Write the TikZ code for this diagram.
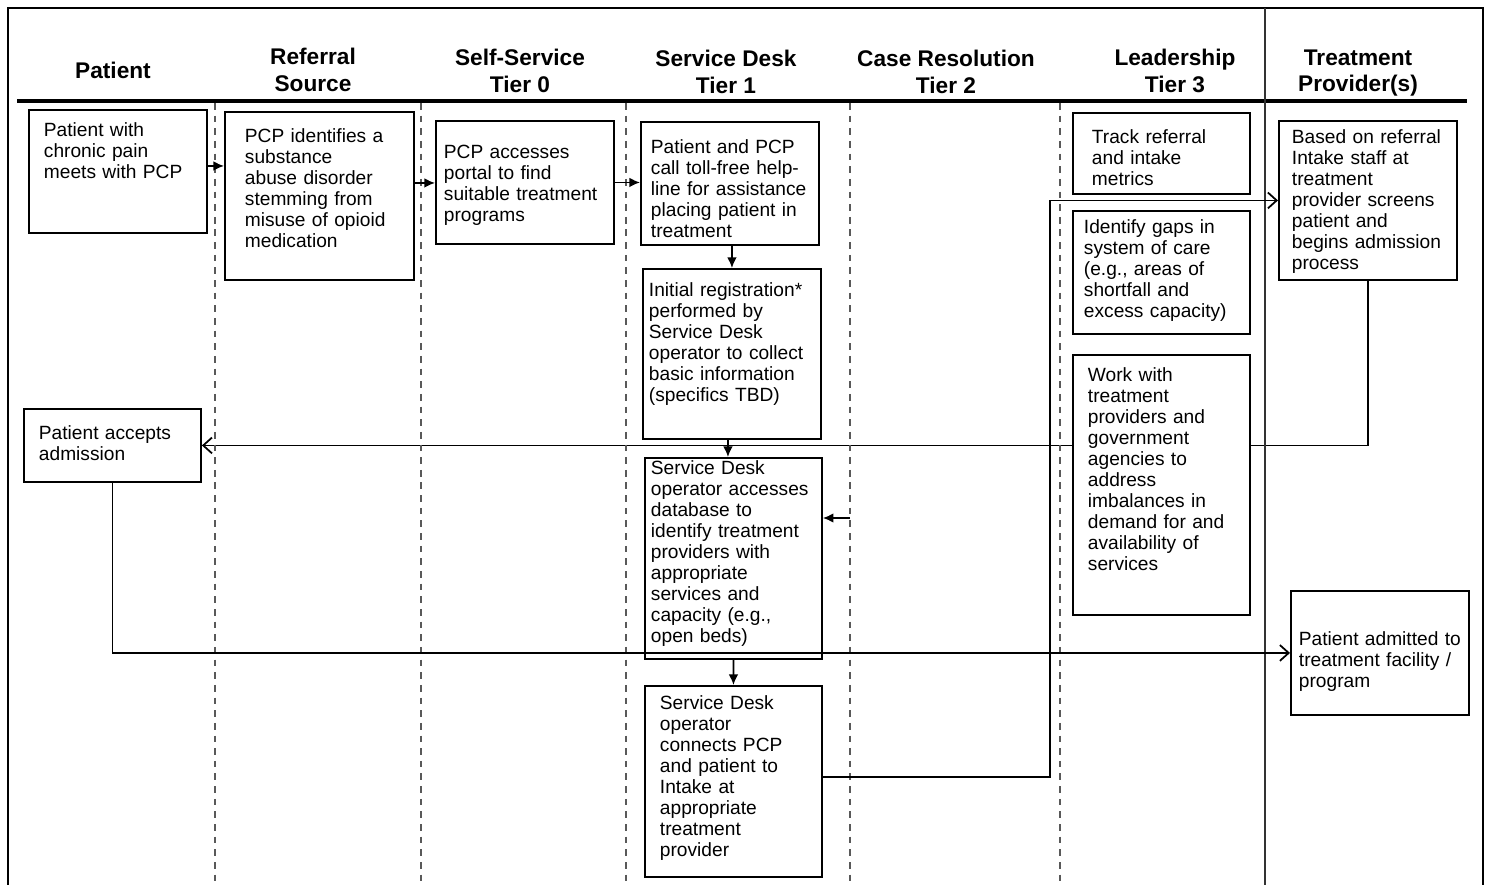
\documentclass[tikz,border=0pt]{standalone}
\usepackage{fontspec}
\setmainfont{Liberation Sans}
\usetikzlibrary{arrows.meta,positioning,backgrounds}

\begin{document}
\begin{tikzpicture}[x = 0.02cm, y = -0.02cm, semithick,
  stage/.style = {draw, fill = white, line width = 1.1pt, anchor = north west, align = left, inner ysep = 0pt, font = \fontsize{10.9}{11.95}\selectfont},
  head/.style = {align = center, font = \fontsize{12.9}{15.3}\selectfont\bfseries},
  lane/.style = {draw = black!65, line width = 1.5pt, dash pattern = on 3.8pt off 3.4pt},
  flow/.style = {line width = 1pt, -{Latex[length = 6pt, width = 5.5pt]}},
  loopback/.style = {line width = 1pt, -{Straight Barb[length = 5pt, width = 9pt]}}]
\useasboundingbox (0,0) rectangle (1489,885);
\clip (0,0) rectangle (1489,885);

% frame, header rule and swim lanes
\draw[line width = 1.3pt] (8,8) rectangle (1483,930);
\draw[line width = 2.6pt] (17,101) -- (1467,101);
\draw[line width = 1.1pt, black!80] (1265,8) -- (1265,900);
\foreach \x in {215,421,626,850,1060}
  \draw[lane] (\x,103) -- (\x,900);

\node[head] (h1) at (113,70) {Patient};
\node[head] (h2) at (313,70) {Referral\\Source};
\node[head] (h3) at (520,71) {Self-Service\\Tier 0};
\node[head] (h4) at (726,72) {Service Desk\\Tier 1};
\node[head] (h5) at (946,72) {Case Resolution\\Tier 2};
\node[head] (h6) at (1175,71) {Leadership\\Tier 3};
\node[head] (h7) at (1358,73) {Treatment\\Provider(s)};

\node[stage, inner xsep = 0.30cm, text width = 2.96cm, text height = 0.54cm, text depth = 1.92cm] (1) at (28,109) {Patient with\\chronic pain\\meets with PCP};
\node[stage, inner xsep = 0.40cm, text width = 2.98cm, text height = 0.62cm, text depth = 2.74cm] (2) at (224,111) {PCP identifies a\\substance\\abuse disorder\\stemming from\\misuse of opioid\\medication};
\node[stage, inner xsep = 0.16cm, text width = 3.24cm, text height = 0.76cm, text depth = 1.70cm] (3) at (435,120) {PCP accesses\\portal to find\\suitable treatment\\programs};
\node[stage, inner xsep = 0.20cm, text width = 3.16cm, text height = 0.64cm, text depth = 1.82cm] (4) at (640,121) {Patient and PCP\\call toll-free help-\\line for assistance\\placing patient in\\treatment};
\node[stage, inner xsep = 0.12cm, text width = 3.32cm, text height = 0.56cm, text depth = 2.84cm] (5) at (642,268) {Initial registration*\\performed by\\Service Desk\\operator to collect\\basic information\\(specifics TBD)};
\node[stage, inner xsep = 0.12cm, text width = 3.30cm, text height = 0.34cm, text depth = 3.68cm] (6) at (644,457) {Service Desk\\operator accesses\\database to\\identify treatment\\providers with\\appropriate\\services and\\capacity (e.g.,\\open beds)};
\node[stage, inner xsep = 0.30cm, text width = 2.94cm, text height = 0.48cm, text depth = 3.34cm] (7) at (644,685) {Service Desk\\operator\\connects PCP\\and patient to\\Intake at\\appropriate\\treatment\\provider};
\node[stage, inner xsep = 0.38cm, text width = 2.78cm, text height = 0.62cm, text depth = 1.00cm] (8) at (1072,112) {Track referral\\and intake\\metrics};
\node[stage, inner xsep = 0.22cm, text width = 3.10cm, text height = 0.46cm, text depth = 2.00cm] (9) at (1072,210) {Identify gaps in\\system of care\\(e.g., areas of\\shortfall and\\excess capacity)};
\node[stage, inner xsep = 0.30cm, text width = 2.94cm, text height = 0.54cm, text depth = 4.66cm] (10) at (1072,354) {Work with\\treatment\\providers and\\government\\agencies to\\address\\imbalances in\\demand for and\\availability of\\services};
\node[stage, inner xsep = 0.26cm, text width = 3.04cm, text height = 0.46cm, text depth = 2.72cm] (11) at (1278,120) {Based on referral\\Intake staff at\\treatment\\provider screens\\patient and\\begins admission\\process};
\node[stage, inner xsep = 0.30cm, text width = 2.94cm, text height = 0.62cm, text depth = 0.84cm] (12) at (23,408) {Patient accepts\\admission};
\node[stage, inner xsep = 0.16cm, text width = 3.24cm, text height = 1.10cm, text depth = 1.38cm] (13) at (1290,590) {Patient admitted to\\treatment facility /\\program};

\path ([yshift = 0.11cm]1.east) edge[flow] ([yshift = 0.11cm]1.east -| 2.west);
\path ([yshift = 0.26cm]2.east) edge[flow] ([yshift = 0.26cm]2.east -| 3.west);
\path (3.east) edge[flow] (3.east -| 4.west);
\path (4.south -| 5.north) edge[flow] (5.north);
\path ([xshift = -0.08cm]5.south) edge[flow] ([xshift = -0.08cm]5.south |- 6.north);
\path (6.south) edge[flow] (7.north);
\coordinate (cr) at (850,518);
\path (cr) edge[flow] (cr -| 6.east);

\draw[loopback] ([yshift = 0.09cm]7.east) -| ([xshift = -4.56cm]11.west) -- (11.west);
\begin{scope}[on background layer]
\draw[loopback] (11.south) |- (12.east);
\end{scope}
\draw[loopback] (12.south) |- (13.west);
\end{tikzpicture}
\end{document}
